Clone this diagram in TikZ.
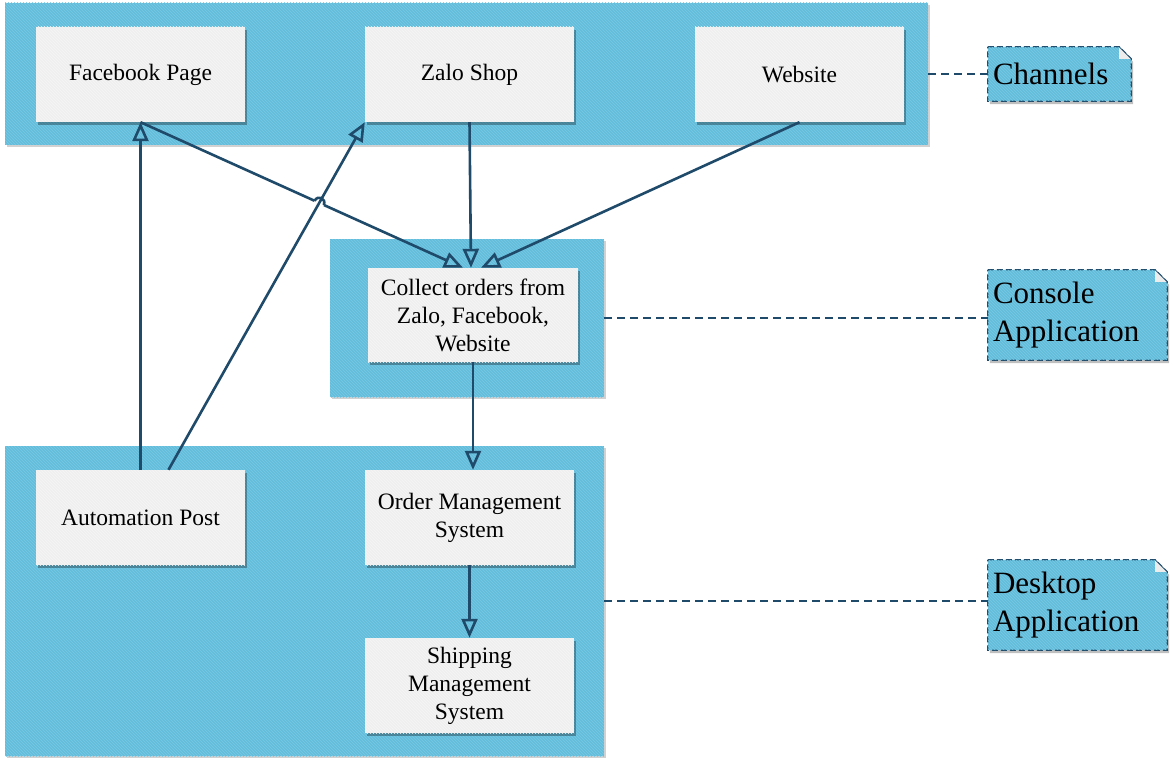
\documentclass[tikz,border=0pt]{standalone}
\usepackage{fontspec}
\setmainfont{Liberation Serif}
\usetikzlibrary{arrows.meta,shadows,patterns,calc,intersections}
\definecolor{cblue}{HTML}{64BDDC}
\definecolor{cstripe}{HTML}{78C8E3}
\definecolor{cline}{HTML}{1F4A6A}
\definecolor{cbox}{HTML}{EFEFEF}
\definecolor{cboxstripe}{HTML}{F6F6F6}
\begin{document}
\begin{tikzpicture}[x=1pt,y=-1pt,
  container/.style={rectangle, fill=cblue, draw=none, inner sep=0pt,
    postaction={pattern=north west lines, pattern color=cstripe},
    drop shadow={shadow xshift=1.5pt, shadow yshift=-2pt, fill=black, opacity=0.18}},
  itembox/.style={rectangle, fill=cbox, draw=none, inner sep=0pt,
    minimum width=209pt, minimum height=95pt, align=center,
    font=\fontsize{23.5}{28}\selectfont,
    postaction={pattern=north west lines, pattern color=cboxstripe},
    drop shadow={shadow xshift=2pt, shadow yshift=-3pt, fill=black, opacity=0.3}},
  noteshape/.style={rectangle, draw=none, inner sep=0pt},
  notetext/.style={anchor=west, align=left, inner sep=0pt, font=\fontsize{31}{38}\selectfont},
  notepath/.style={draw=cline, dash pattern=on 6pt off 3pt, line width=1.3pt, fill=cblue,
    postaction={pattern=north west lines, pattern color=cstripe},
    drop shadow={shadow xshift=2pt, shadow yshift=-3pt, fill=black, opacity=0.25}},
  link/.style={draw=cline, line width=2.6pt, -{Triangle[open, length=19pt, width=16pt]}},
  dlink/.style={draw=cline, line width=1.3pt, dash pattern=on 8pt off 5pt}
]
\useasboundingbox (0,0) rectangle (1173,765);

% containers
\node[container, minimum width=923pt, minimum height=142pt] (chan) at (466.5,74) {};
\node[container, minimum width=274pt, minimum height=158pt] (cons) at (467,318) {};
\node[container, minimum width=599pt, minimum height=310pt] (desk) at (304.5,601) {};

% item boxes
\node[itembox] (fb) at (140.5,74.5) {Facebook Page};
\node[itembox] (zs) at (469.5,74.5) {Zalo Shop};
\node[itembox] (ws) at (799.5,74.5) {Website};
\node[itembox, minimum width=210pt, minimum height=94pt] (col) at (473,315) {Collect orders from\\Zalo, Facebook,\\Website};
\node[itembox] (ap) at (140.5,517.5) {Automation Post};
\node[itembox] (om) at (469.5,517.5) {Order Management\\System};
\node[itembox] (sm) at (469.5,685.5) {Shipping\\Management\\System};

% notes
\node[noteshape, minimum width=143pt, minimum height=54pt] (n1) at (1059.5,74) {};
\node[noteshape, minimum width=179pt, minimum height=90pt] (n2) at (1077.5,315) {};
\node[noteshape, minimum width=179pt, minimum height=90pt] (n3) at (1077.5,605) {};
\foreach \n in {n1,n2,n3}{
  \path[notepath] (\n.north west) -- ([xshift=-12pt]\n.north east) -- ([yshift=-12pt]\n.north east)
     -- (\n.south east) -- (\n.south west) -- cycle;
  \fill[white!85!gray] ([xshift=-12pt]\n.north east) -- ([xshift=-12pt,yshift=-12pt]\n.north east)
     -- ([yshift=-12pt]\n.north east) -- cycle;
  \draw[cline, line width=0.8pt] ([xshift=-12pt]\n.north east) -- ([yshift=-12pt]\n.north east);
}
\node[notetext] (t1) at ([xshift=5pt]n1.west) {Channels};
\node[notetext] (t2) at ([xshift=5pt]n2.west) {Console\\Application};
\node[notetext] (t3) at ([xshift=5pt]n3.west) {Desktop\\Application};

% dashed note links
\draw[dlink] (chan.east) -- (n1.west);
\draw[dlink] (cons.east) -- (cons.east -| n2.west);
\draw[dlink] (desk.east) -- (desk.east -| n3.west);

% connectors
\coordinate (cfb) at ([xshift=-10pt]col.north);
\coordinate (czs) at ([xshift=-2pt]col.north);
\coordinate (cws) at ([xshift=8pt]col.north);
\coordinate (apr) at ([xshift=28pt]ap.north);

\path[name path=fbline] (fb.south) -- (cfb);
\path[name path=azline] (apr) -- (zs.south west);
\path[name intersections={of=fbline and azline, by=X}];
\coordinate (X1) at ($(X)!5pt!(fb.south)$);
\coordinate (X2) at ($(X)!5pt!(cfb)$);

\draw[link] (fb.south) -- (cfb);
\draw[white, line width=3.8pt] (X1) -- (X2);
\draw[link] (apr) -- (zs.south west);
\draw[cline, line width=2.6pt] (X1) .. controls ($(X1)+(2.9,-6.4)$) and ($(X2)+(2.9,-6.4)$) .. (X2);

\draw[link] (zs.south) -- (czs);
\draw[link] (ws.south) -- (cws);
\draw[link] (ap.north) -- (fb.south);
\draw[link] (col.south) -- (col.south |- om.north);
\draw[link] (om.south) -- (sm.north);
\end{tikzpicture}
\end{document}
